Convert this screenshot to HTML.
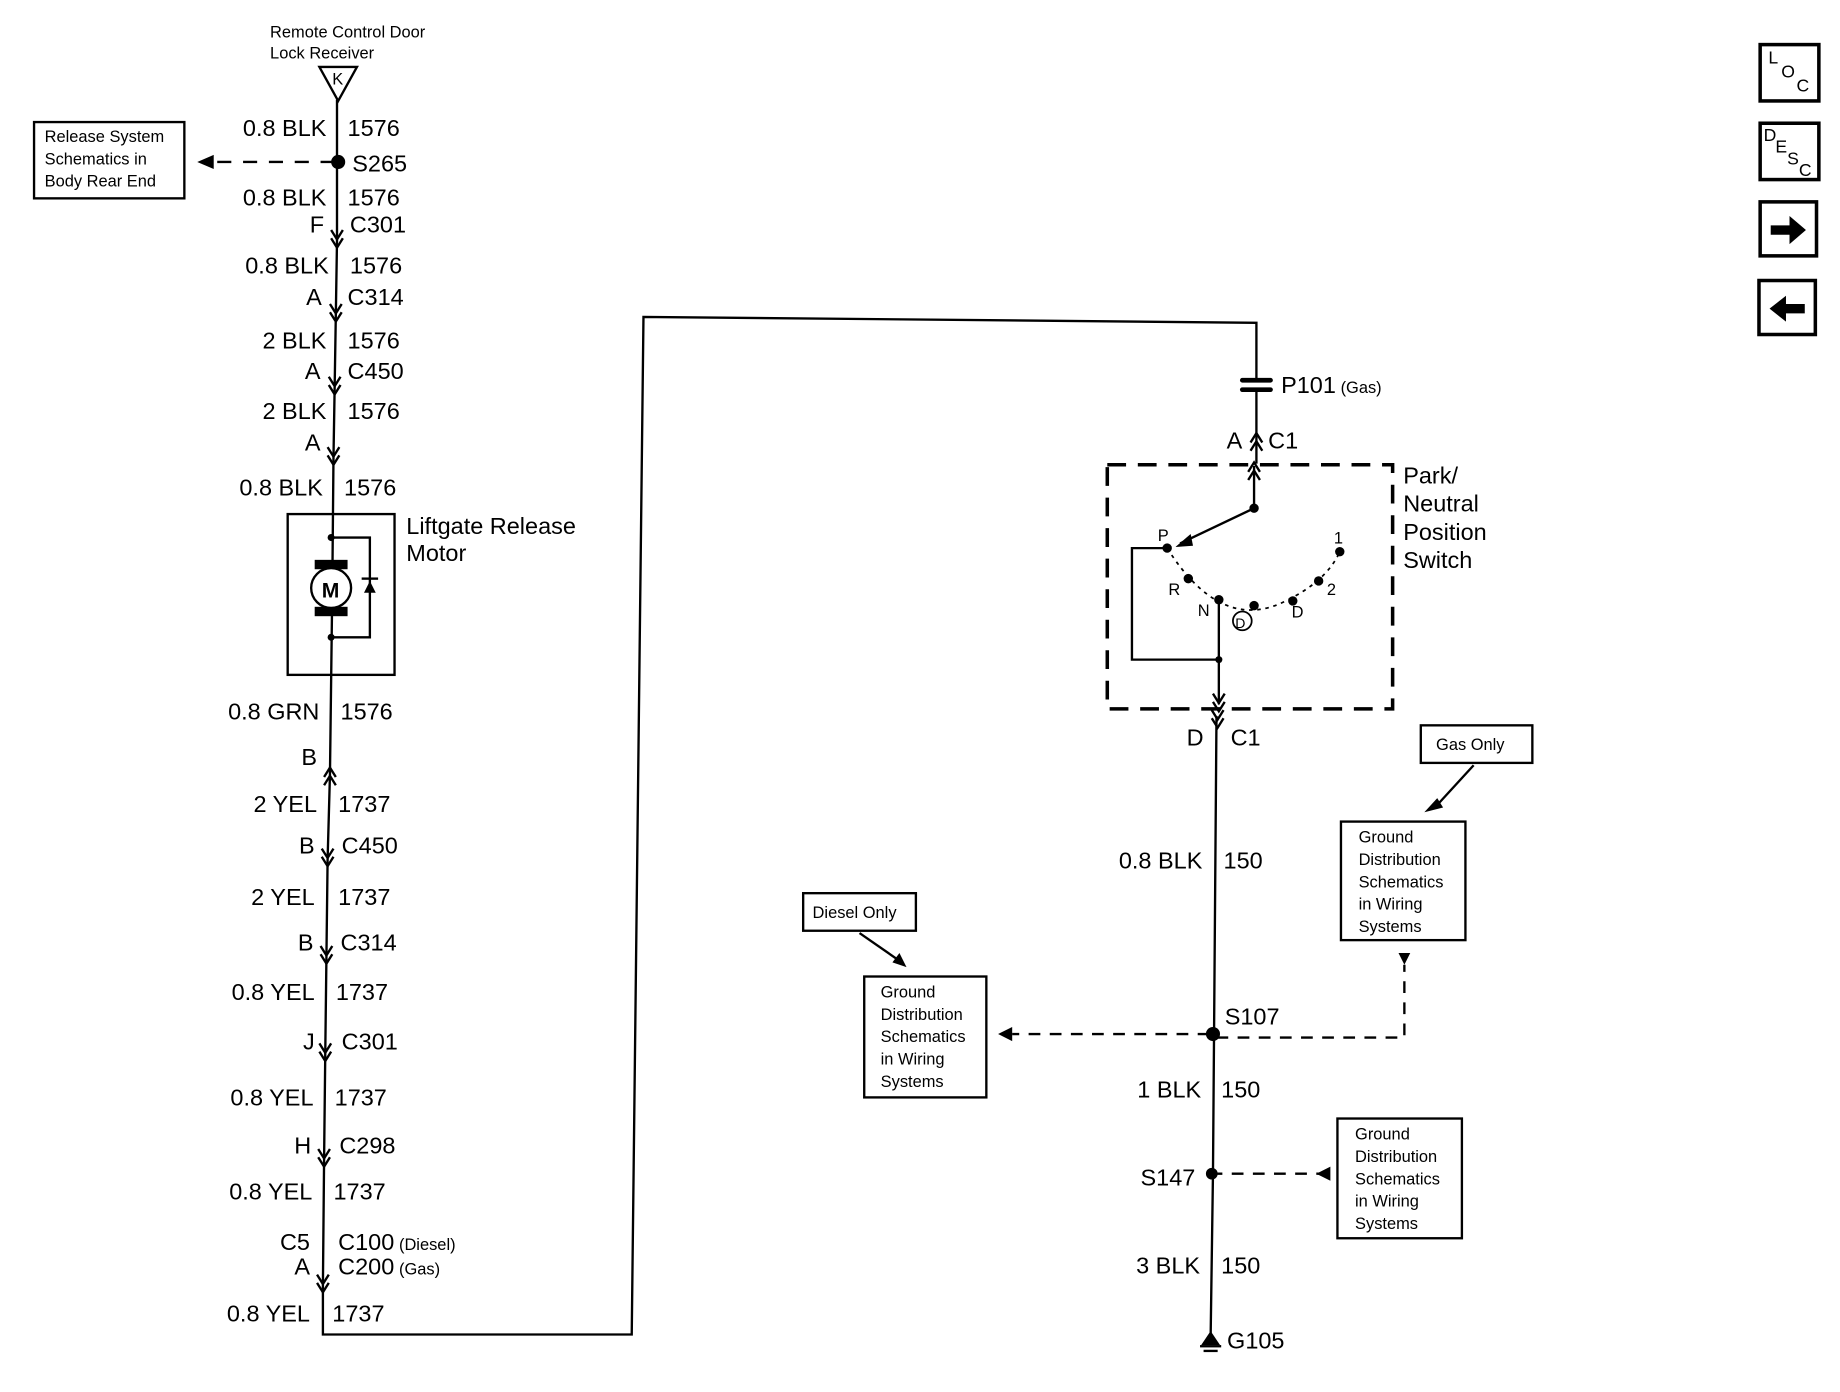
<!DOCTYPE html>
<html><head><meta charset="utf-8"><style>
html,body{margin:0;padding:0;background:#fff;}
svg{display:block;}
text{font-family:"Liberation Sans",Arial,sans-serif;fill:#000;}
.l{font-size:20px;}
.s{font-size:14px;}
</style></head><body>
<svg width="1840" height="1392" viewBox="0 0 1567 1186" preserveAspectRatio="none" xmlns="http://www.w3.org/2000/svg">
<defs>
<g id="dn" fill="none" stroke="#000" stroke-width="2"><path d="M-5,-9 L0,-1 L5,-9 M-5,-2 L0,6 L5,-2"/></g>
<g id="up" fill="none" stroke="#000" stroke-width="2"><path d="M-5,9 L0,1 L5,9 M-5,2 L0,-6 L5,2"/></g>
</defs>
<g stroke="#000" stroke-width="2" fill="none">
<path d="M287,85 L287,205 L286,268 L285,330 L284,390 L283,500 L281,660 L279,732 L278,815 L277,898 L276,988 L275,1095 L275,1137 L538,1137 L548,270 L1070,275 L1070,325"/>
<path d="M1070,333 L1070,395"/>
<path d="M272,57 L304,57 L288,86 Z"/>
<path d="M285,138 L180,138" stroke-dasharray="12,10"/>
<rect x="29" y="104" width="128" height="65"/>
<rect x="245" y="438" width="91" height="137"/>
<path d="M283,458 L315,458 L315,543 L283,543"/>
<rect x="943" y="396" width="243" height="208" stroke-width="3" stroke-dasharray="16,10"/>
<path d="M1068,397 L1068,433 L1005,463"/>
<path d="M994,467 L964,467 L964,562 L1038,562"/>
<path d="M1038,511 L1038,600"/>
<path d="M994,467 Q1040,540 1095,512 Q1130,495 1141,470" stroke-width="1.5" stroke-dasharray="3,4"/>
<path d="M1036,610 L1033,1000 L1031,1140"/>
<path d="M1030,881 L862,881" stroke-dasharray="10,8"/>
<path d="M1036,884 L1196,884 L1196,822" stroke-dasharray="10,8"/>
<path d="M1031,1000 L1125,1000" stroke-dasharray="10,8"/>
<rect x="1210" y="618" width="95" height="32"/>
<rect x="1142" y="700" width="106" height="101"/>
<rect x="684" y="761" width="96" height="32"/>
<rect x="736" y="832" width="104" height="103"/>
<rect x="1139" y="953" width="106" height="102"/>
<path d="M1255,652 L1222,688"/>
<path d="M732,795 L768,820"/>
<rect x="1499" y="38" width="50" height="48" stroke-width="3"/>
<rect x="1499" y="105" width="50" height="48" stroke-width="3"/>
<rect x="1499" y="172" width="48" height="46" stroke-width="3"/>
<rect x="1498" y="239" width="48" height="46" stroke-width="3"/>
</g>
<g fill="#000">
<circle cx="288" cy="138" r="6"/>
<polygon points="168,138 182,132 182,144"/>
<polygon points="1213,692 1224,680 1229,688"/>
<polygon points="772,824 760,820 766,812"/>
<polygon points="850,881 862,875 862,887"/>
<polygon points="1191,812 1201,812 1196,822"/>
<polygon points="1121,1000 1133,994 1133,1006"/>
<circle cx="1033" cy="881" r="6"/>
<circle cx="1032" cy="1000" r="5"/>
<circle cx="1068" cy="433" r="4"/><circle cx="994" cy="467" r="4"/>
<circle cx="1012" cy="493" r="4"/><circle cx="1038" cy="511" r="4"/>
<circle cx="1068" cy="516" r="4"/><circle cx="1101" cy="512" r="4"/>
<circle cx="1123" cy="495" r="4"/><circle cx="1141" cy="470" r="4"/>
<circle cx="1038" cy="562" r="3"/>
<polygon points="1001,466 1014,455 1016,465"/>
<rect x="268" y="477" width="28" height="8"/>
<rect x="268" y="517" width="28" height="8"/>
<circle cx="282" cy="458" r="3"/><circle cx="282" cy="543" r="3"/>
<polygon points="310,505 320,505 315,495"/>
<rect x="308" y="492" width="14" height="2"/>
<polygon points="1023,1146 1039,1146 1031,1134"/>
<rect x="1022" y="1146" width="18" height="2"/><rect x="1025" y="1150" width="12" height="2"/>
<rect x="1056" y="322" width="28" height="4" rx="2"/><rect x="1056" y="330" width="28" height="4" rx="2"/>
<polygon points="1508,192 1524,192 1524,184 1538,196 1524,208 1524,200 1508,200"/>
<polygon points="1537,259 1521,259 1521,252 1507,263 1521,274 1521,267 1537,267"/>
</g>
<g stroke="#000" stroke-width="2" fill="#fff">
<circle cx="282" cy="501" r="17"/>
<circle cx="1058" cy="529" r="8" stroke-width="1.5"/>
</g>
<use href="#dn" x="287" y="205"/><use href="#dn" x="286" y="268"/>
<use href="#dn" x="285" y="330"/><use href="#dn" x="284" y="390"/>
<use href="#up" x="281" y="660"/><use href="#dn" x="279" y="732"/>
<use href="#dn" x="278" y="815"/><use href="#dn" x="277" y="898"/>
<use href="#dn" x="276" y="988"/><use href="#dn" x="275" y="1095"/>
<use href="#up" x="1070" y="375"/><use href="#up" x="1068" y="400"/>
<use href="#dn" x="1038" y="600"/><use href="#dn" x="1037" y="614"/>
<text x="230" y="32" class="s">Remote Control Door</text>
<text x="230" y="50" class="s">Lock Receiver</text>
<text x="283" y="72" class="s">K</text>
<text x="38" y="121" class="s">Release System</text>
<text x="38" y="140" class="s">Schematics in</text>
<text x="38" y="159" class="s">Body Rear End</text>
<g class="l" text-anchor="end">
<text x="278" y="116">0.8 BLK</text>
<text x="278" y="175">0.8 BLK</text>
<text x="276" y="198">F</text>
<text x="280" y="233">0.8 BLK</text>
<text x="274" y="260">A</text>
<text x="278" y="297">2 BLK</text>
<text x="273" y="323">A</text>
<text x="278" y="357">2 BLK</text>
<text x="273" y="384">A</text>
<text x="275" y="422">0.8 BLK</text>
<text x="272" y="613">0.8 GRN</text>
<text x="270" y="652">B</text>
<text x="270" y="692">2 YEL</text>
<text x="268" y="727">B</text>
<text x="268" y="771">2 YEL</text>
<text x="267" y="810">B</text>
<text x="268" y="852">0.8 YEL</text>
<text x="268" y="894">J</text>
<text x="267" y="942">0.8 YEL</text>
<text x="265" y="983">H</text>
<text x="266" y="1022">0.8 YEL</text>
<text x="264" y="1065">C5</text>
<text x="264" y="1086">A</text>
<text x="264" y="1126">0.8 YEL</text>
<text x="1024" y="740">0.8 BLK</text>
<text x="1023" y="935">1 BLK</text>
<text x="1018" y="1010">S147</text>
<text x="1022" y="1085">3 BLK</text>
<text x="1025" y="635">D</text>
<text x="1058" y="382">A</text>
</g>
<g class="l">
<text x="296" y="116">1576</text>
<text x="300" y="146">S265</text>
<text x="296" y="175">1576</text>
<text x="298" y="198">C301</text>
<text x="298" y="233">1576</text>
<text x="296" y="260">C314</text>
<text x="296" y="297">1576</text>
<text x="296" y="323">C450</text>
<text x="296" y="357">1576</text>
<text x="293" y="422">1576</text>
<text x="346" y="455">Liftgate Release</text>
<text x="346" y="478">Motor</text>
<text x="290" y="613">1576</text>
<text x="288" y="692">1737</text>
<text x="291" y="727">C450</text>
<text x="288" y="771">1737</text>
<text x="290" y="810">C314</text>
<text x="286" y="852">1737</text>
<text x="291" y="894">C301</text>
<text x="285" y="942">1737</text>
<text x="289" y="983">C298</text>
<text x="284" y="1022">1737</text>
<text x="288" y="1065">C100<tspan class="s" dx="4">(Diesel)</tspan></text>
<text x="288" y="1086">C200<tspan class="s" dx="4">(Gas)</tspan></text>
<text x="283" y="1126">1737</text>
<text x="1091" y="335">P101<tspan class="s" dx="4">(Gas)</tspan></text>
<text x="1080" y="382">C1</text>
<text x="1195" y="412">Park/</text>
<text x="1195" y="436">Neutral</text>
<text x="1195" y="460">Position</text>
<text x="1195" y="484">Switch</text>
<text x="1048" y="635">C1</text>
<text x="1042" y="740">150</text>
<text x="1043" y="873">S107</text>
<text x="1040" y="935">150</text>
<text x="1040" y="1085">150</text>
<text x="1045" y="1149">G105</text>
</g>
<g class="s">
<text x="986" y="461">P</text><text x="995" y="507">R</text><text x="1020" y="525">N</text>
<text x="1052" y="535" font-size="12">D</text>
<text x="1100" y="526">D</text><text x="1130" y="507">2</text><text x="1136" y="463">1</text>
<text x="1223" y="639">Gas Only</text>
<text x="692" y="782">Diesel Only</text>
<text x="1157" y="718">Ground</text><text x="1157" y="737">Distribution</text><text x="1157" y="756">Schematics</text><text x="1157" y="775">in Wiring</text><text x="1157" y="794">Systems</text>
<text x="750" y="850">Ground</text><text x="750" y="869">Distribution</text><text x="750" y="888">Schematics</text><text x="750" y="907">in Wiring</text><text x="750" y="926">Systems</text>
<text x="1154" y="971">Ground</text><text x="1154" y="990">Distribution</text><text x="1154" y="1009">Schematics</text><text x="1154" y="1028">in Wiring</text><text x="1154" y="1047">Systems</text>
</g>
<text x="274" y="509" font-size="18" font-weight="bold">M</text>
<g font-size="15">
<text x="1506" y="54">L</text><text x="1517" y="66">O</text><text x="1530" y="78">C</text>
<text x="1502" y="120">D</text><text x="1512" y="130">E</text><text x="1522" y="140">S</text><text x="1532" y="150">C</text>
</g>
</svg>
</body></html>
